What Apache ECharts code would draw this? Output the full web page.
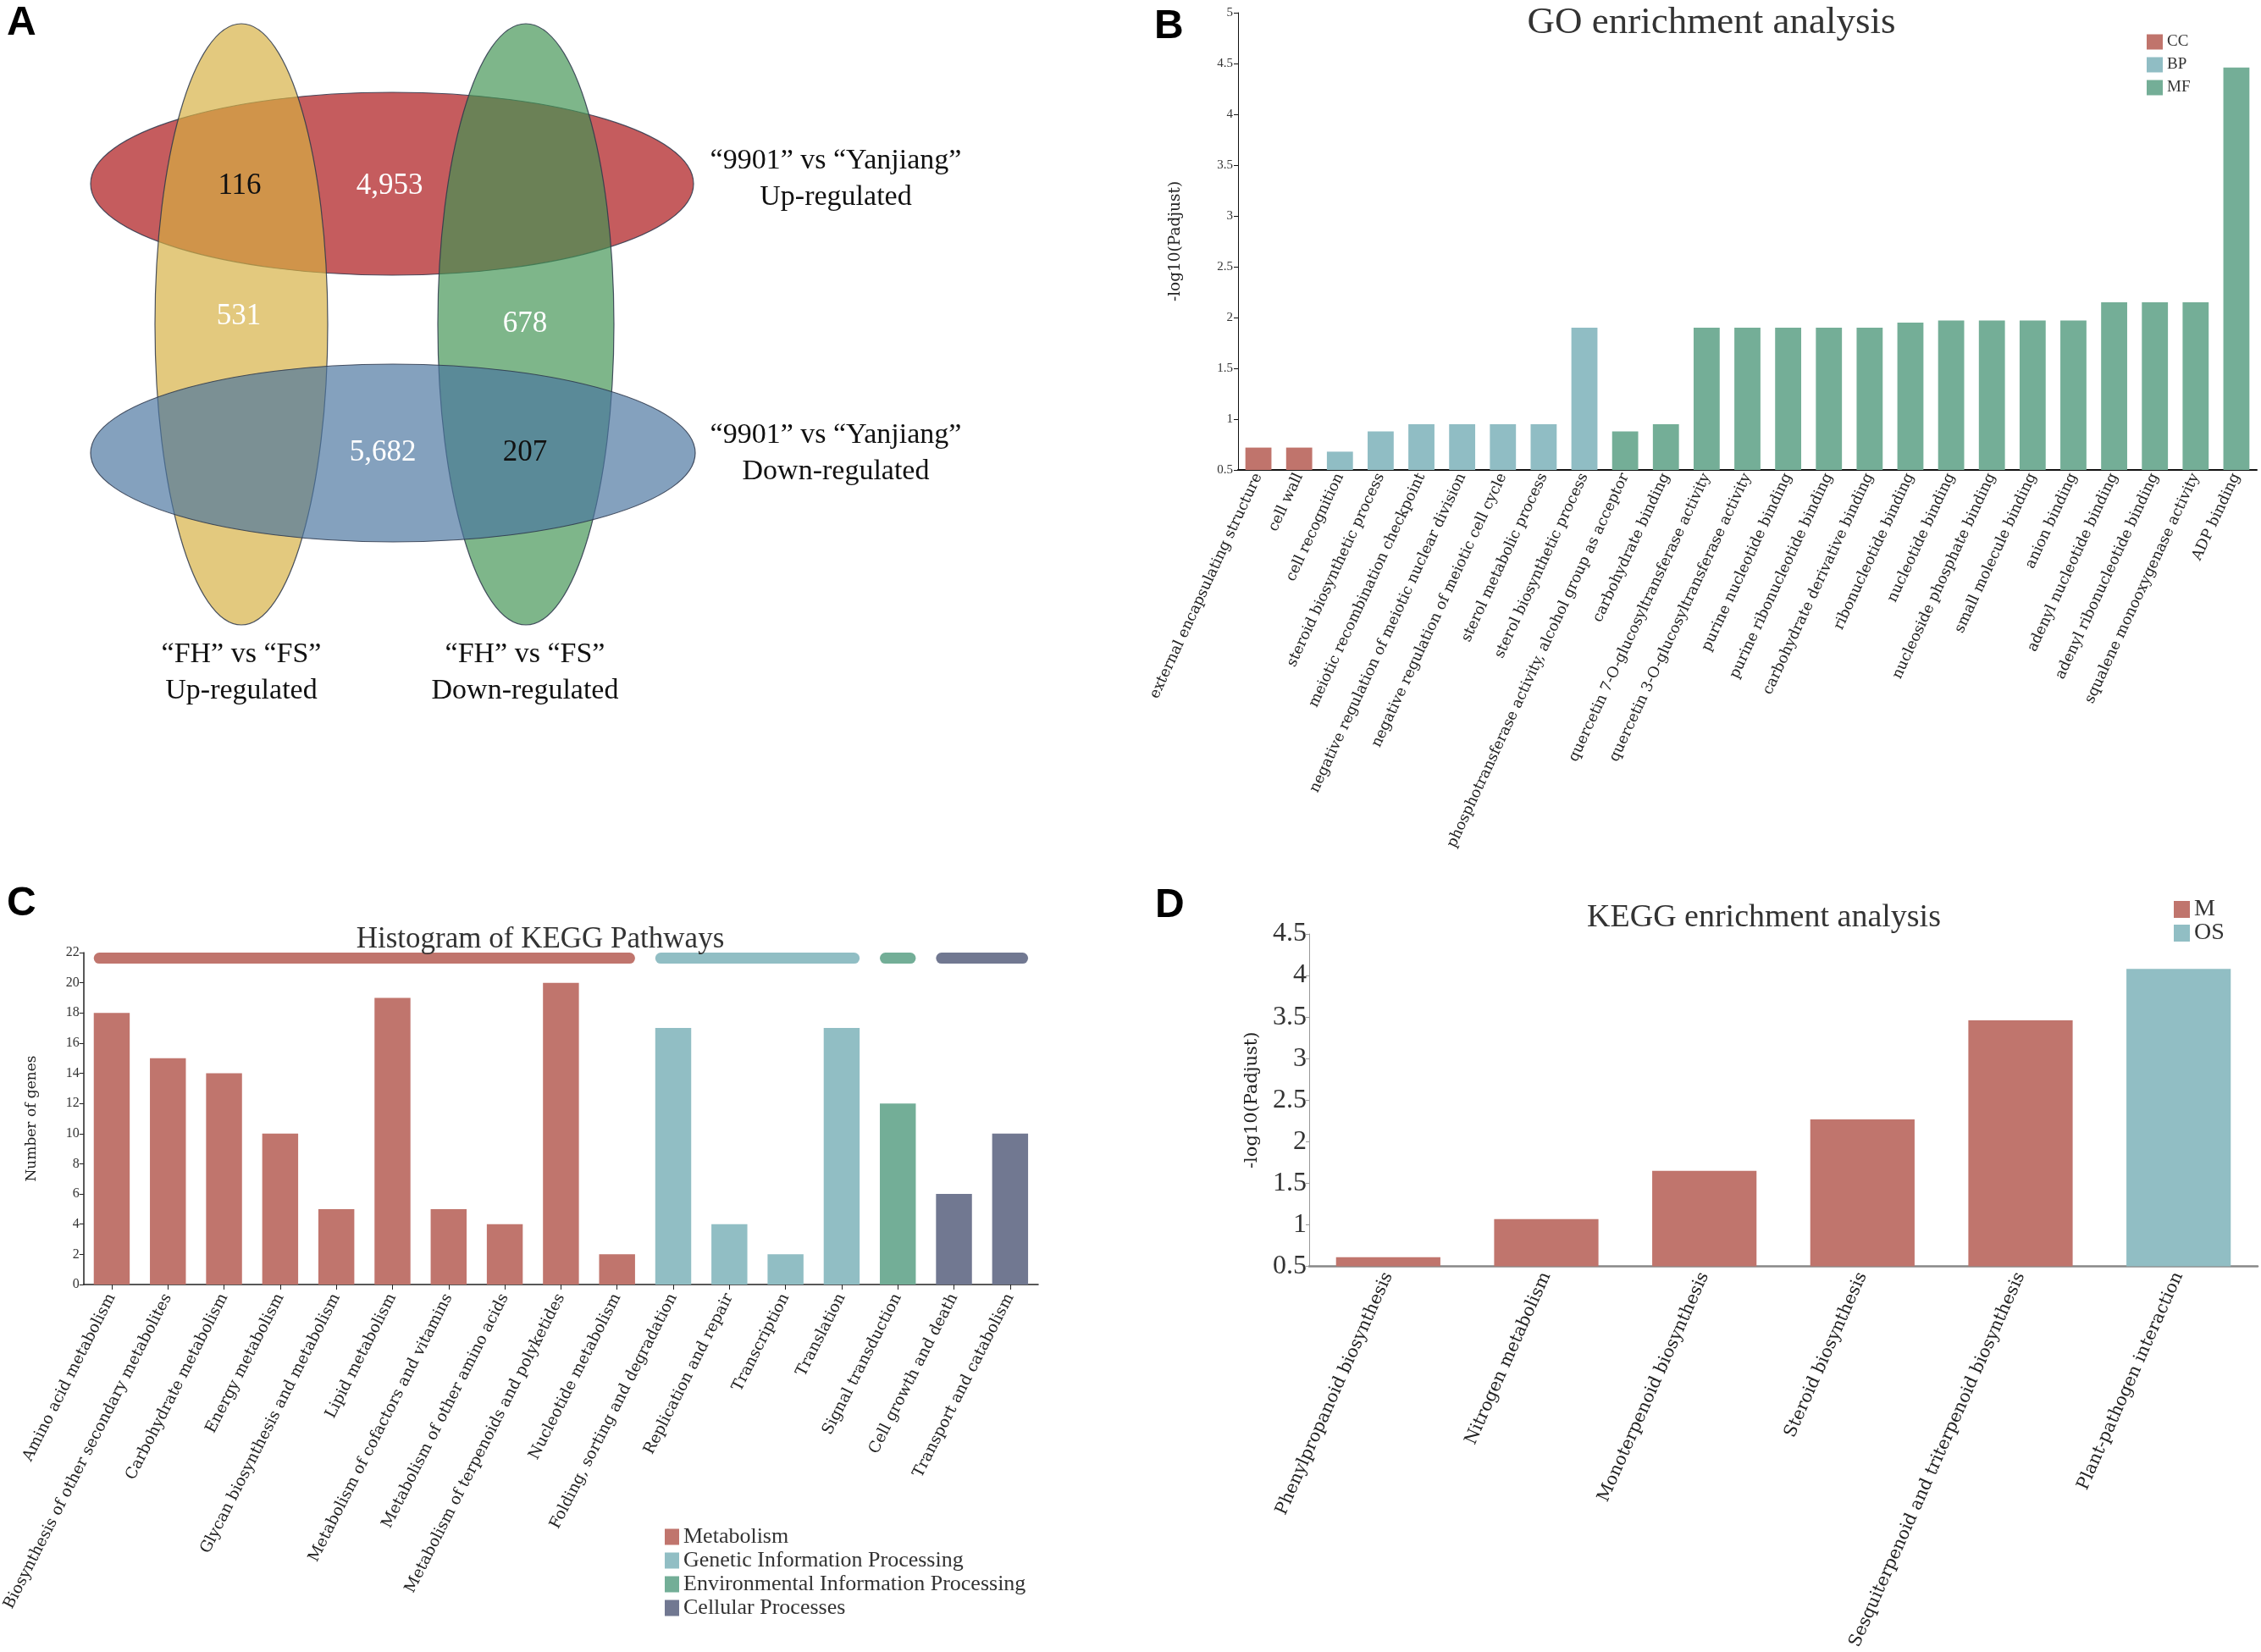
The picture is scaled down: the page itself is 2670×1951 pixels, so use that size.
<!DOCTYPE html>
<html>
<head>
<meta charset="utf-8">
<script src="https://cdn.jsdelivr.net/npm/echarts@6/dist/echarts.min.js"></script>
<style>
html,body{margin:0;padding:0;background:#fff;}
#main{width:2670px;height:1951px;}
</style>
</head>
<body>
<div id="main"></div>
<script>
// ---------- Panel A: Venn ----------
const vennSetNames = ['“9901” vs “Yanjiang”\nUp-regulated', '“9901” vs “Yanjiang”\nDown-regulated', '“FH” vs “FS”\nUp-regulated', '“FH” vs “FS”\nDown-regulated'];
const vennCounts = [116, 4953, 531, 678, 5682, 207];
const vennCountDark = [true, false, false, false, false, true];

// ---------- Panel B: GO enrichment ----------
const goTerms = ['external encapsulating structure', 'cell wall', 'cell recognition', 'steroid biosynthetic process', 'meiotic recombination checkpoint', 'negative regulation of meiotic nuclear division', 'negative regulation of meiotic cell cycle', 'sterol metabolic process', 'sterol biosynthetic process', 'phosphotransferase activity, alcohol group as acceptor', 'carbohydrate binding', 'quercetin 7-O-glucosyltransferase activity', 'quercetin 3-O-glucosyltransferase activity', 'purine nucleotide binding', 'purine ribonucleotide binding', 'carbohydrate derivative binding', 'ribonucleotide binding', 'nucleotide binding', 'nucleoside phosphate binding', 'small molecule binding', 'anion binding', 'adenyl nucleotide binding', 'adenyl ribonucleotide binding', 'squalene monooxygenase activity', 'ADP binding'];
const goValues = [0.72, 0.72, 0.68, 0.88, 0.95, 0.95, 0.95, 0.95, 1.90, 0.88, 0.95, 1.90, 1.90, 1.90, 1.90, 1.90, 1.95, 1.97, 1.97, 1.97, 1.97, 2.15, 2.15, 2.15, 4.46];
const goGroups = ['CC', 'CC', 'BP', 'BP', 'BP', 'BP', 'BP', 'BP', 'BP', 'MF', 'MF', 'MF', 'MF', 'MF', 'MF', 'MF', 'MF', 'MF', 'MF', 'MF', 'MF', 'MF', 'MF', 'MF', 'MF'];
const goGroupNames = ['CC', 'BP', 'MF'];
const goYTicks = [0.5, 5, 0.5]; // min, max, interval

// ---------- Panel C: KEGG histogram ----------
const keggPathways = ['Amino acid metabolism', 'Biosynthesis of other secondary metabolites', 'Carbohydrate metabolism', 'Energy metabolism', 'Glycan biosynthesis and metabolism', 'Lipid metabolism', 'Metabolism of cofactors and vitamins', 'Metabolism of other amino acids', 'Metabolism of terpenoids and polyketides', 'Nucleotide metabolism', 'Folding, sorting and degradation', 'Replication and repair', 'Transcription', 'Translation', 'Signal transduction', 'Cell growth and death', 'Transport and catabolism'];
const keggGenes = [18, 15, 14, 10, 5, 19, 5, 4, 20, 2, 17, 4, 2, 17, 12, 6, 10];
const keggClasses = ['Metabolism', 'Metabolism', 'Metabolism', 'Metabolism', 'Metabolism', 'Metabolism', 'Metabolism', 'Metabolism', 'Metabolism', 'Metabolism', 'Genetic Information Processing', 'Genetic Information Processing', 'Genetic Information Processing', 'Genetic Information Processing', 'Environmental Information Processing', 'Cellular Processes', 'Cellular Processes'];
const keggClassNames = ['Metabolism', 'Genetic Information Processing', 'Environmental Information Processing', 'Cellular Processes'];
const keggYTicks = [0, 22, 2];

// ---------- Panel D: KEGG enrichment ----------
const enrichPathways = ['Phenylpropanoid biosynthesis', 'Nitrogen metabolism', 'Monoterpenoid biosynthesis', 'Steroid biosynthesis', 'Sesquiterpenoid and triterpenoid biosynthesis', 'Plant-pathogen interaction'];
const enrichValues = [0.61, 1.07, 1.65, 2.27, 3.46, 4.08];
const enrichGroups = ['M', 'M', 'M', 'M', 'M', 'OS'];
const enrichGroupNames = ['M', 'OS'];
const enrichYTicks = [0.5, 4.5, 0.5];

// ---------- styles ----------
const SERIF = '"Liberation Serif", "Times New Roman", serif';
const WIDE = '"DejaVu Serif", serif';
const SANS = '"Liberation Sans", Arial, sans-serif';
const goColors = {CC: '#C0746C', BP: '#90BDC4', MF: '#74AE97'};
const keggColors = {'Metabolism': '#C0756D', 'Genetic Information Processing': '#91BEC4', 'Environmental Information Processing': '#73AE97', 'Cellular Processes': '#717891'};
const enrichColors = {M: '#C0756D', OS: '#91BEC4'};

const chart = echarts.init(document.getElementById('main'), null, {renderer: 'canvas'});

function splitSeries(values, groups, name) {
  return values.map((v, i) => groups[i] === name ? v : '-');
}

// Venn graphics
const ellipses = [
  {cx: 463, cy: 217, rx: 356, ry: 108, c: 'rgba(170,15,18,0.68)'},
  {cx: 285, cy: 383, rx: 102, ry: 355, c: 'rgba(214,176,65,0.68)'},
  {cx: 621, cy: 383, rx: 104, ry: 355, c: 'rgba(65,148,83,0.68)'},
  {cx: 464, cy: 535, rx: 357, ry: 105, c: 'rgba(73,117,159,0.68)'}
];
const countPos = [[283, 220], [460, 220], [282, 374], [620, 383], [452, 535], [620, 535]];
const setLabelPos = [[987, 212], [987, 536], [285, 795], [620, 795]];

const graphics = [];
ellipses.forEach(e => graphics.push({
  type: 'ellipse', shape: {cx: e.cx, cy: e.cy, rx: e.rx, ry: e.ry},
  style: {fill: e.c, stroke: 'rgba(45,55,75,0.85)', lineWidth: 1.2}, silent: true
}));
vennCounts.forEach((v, i) => graphics.push({
  type: 'text', x: countPos[i][0], y: countPos[i][1], silent: true,
  style: {text: v.toLocaleString('en-US'), font: '35px ' + SERIF, fill: vennCountDark[i] ? '#111' : '#fff', textAlign: 'center', textVerticalAlign: 'middle', verticalAlign: 'middle', align: 'center'}
}));
vennSetNames.forEach((t, i) => graphics.push({
  type: 'text', x: setLabelPos[i][0], y: setLabelPos[i][1], silent: true,
  style: {text: t, font: '34px ' + SERIF, fill: '#111', lineHeight: 43, textAlign: 'center', textVerticalAlign: 'middle', verticalAlign: 'middle', align: 'center'}
}));
// panel letters
[['A', 8, 4], ['B', 1363, 8], ['C', 8, 1044], ['D', 1364, 1046]].forEach(p => graphics.push({
  type: 'text', x: p[1], y: p[2], silent: true,
  style: {text: p[0], font: 'bold 48px ' + SANS, fill: '#000', textAlign: 'left', textVerticalAlign: 'top', verticalAlign: 'top', align: 'left'}
}));

// band ranges for KEGG classes
const bandData = keggClassNames.map((n, g) => {
  const idx = keggClasses.map((c, i) => c === n ? i : -1).filter(i => i >= 0);
  return [Math.min(...idx), Math.max(...idx), g];
});

function axisText(size, fam) { return {fontFamily: fam || SERIF, fontSize: size, color: '#333'}; }

const option = {
  backgroundColor: '#fff',
  animation: false,
  title: [
    {text: 'GO enrichment analysis', left: 2016, top: 0, textAlign: 'center', textStyle: {fontFamily: SERIF, fontSize: 45, fontWeight: 'normal', color: '#333'}},
    {text: 'Histogram of KEGG Pathways', left: 633, top: 1087, textAlign: 'center', textStyle: {fontFamily: SERIF, fontSize: 35, fontWeight: 'normal', color: '#333'}},
    {text: 'KEGG enrichment analysis', left: 2078, top: 1060, textAlign: 'center', textStyle: {fontFamily: SERIF, fontSize: 38, fontWeight: 'normal', color: '#333'}}
  ],
  legend: [
    {data: goGroupNames, orient: 'vertical', left: 2530, top: 35, icon: 'rect', itemWidth: 19, itemHeight: 18, itemGap: 8, selectedMode: false, textStyle: {fontFamily: SERIF, fontSize: 19, lineHeight: 19, color: '#333'}},
    {data: keggClassNames, orient: 'vertical', left: 780, top: 1797, icon: 'rect', itemWidth: 17, itemHeight: 19, itemGap: 2, selectedMode: false, textStyle: {fontFamily: SERIF, fontSize: 26, lineHeight: 26, color: '#333'}},
    {data: enrichGroupNames, orient: 'vertical', left: 2562, top: 1055, icon: 'rect', itemWidth: 19, itemHeight: 20, itemGap: 0, selectedMode: false, textStyle: {fontFamily: SERIF, fontSize: 28, lineHeight: 28, color: '#333'}}
  ],
  grid: [
    {left: 1462, right: 5, top: 15, bottom: 1396, containLabel: false},
    {left: 97, right: 1444, top: 1125, bottom: 434, containLabel: false},
    {left: 1546, right: 4, top: 1103, bottom: 451, containLabel: false}
  ],
  xAxis: [
    {gridIndex: 0, type: 'category', data: goTerms, axisLine: {lineStyle: {color: '#111', width: 2}}, axisTick: {show: false},
     axisLabel: {interval: 0, rotate: 65, margin: 5, fontFamily: WIDE, fontSize: 17.5, color: '#222'}},
    {gridIndex: 1, type: 'category', data: keggPathways, axisLine: {lineStyle: {color: '#222', width: 1.5}}, axisTick: {show: true, alignWithLabel: true, length: 6, lineStyle: {color: '#222'}},
     axisLabel: {interval: 0, rotate: 63, margin: 12, fontFamily: WIDE, fontSize: 18.5, color: '#222'}},
    {gridIndex: 2, type: 'category', data: enrichPathways, axisLine: {lineStyle: {color: '#888', width: 2.5}}, axisTick: {show: false},
     axisLabel: {interval: 0, rotate: 66, margin: 8, fontFamily: WIDE, fontSize: 20.5, color: '#222'}}
  ],
  yAxis: [
    {gridIndex: 0, type: 'value', min: goYTicks[0], max: goYTicks[1], interval: goYTicks[2], splitLine: {show: false},
     axisLine: {show: true, lineStyle: {color: '#111', width: 1}}, axisTick: {show: true, length: 5, lineStyle: {color: '#111'}},
     axisLabel: Object.assign({margin: 6}, axisText(15)),
     name: '-log10(Padjust)', nameLocation: 'middle', nameRotate: 90, nameGap: 64, nameTextStyle: {fontFamily: WIDE, fontSize: 18.5, color: '#222'}},
    {gridIndex: 1, type: 'value', min: keggYTicks[0], max: keggYTicks[1], interval: keggYTicks[2], splitLine: {show: false},
     axisLine: {show: true, lineStyle: {color: '#222', width: 1.5}}, axisTick: {show: true, length: 5, lineStyle: {color: '#222'}},
     axisLabel: Object.assign({margin: 5}, axisText(16)),
     name: 'Number of genes', nameLocation: 'middle', nameRotate: 90, nameGap: 53, nameTextStyle: {fontFamily: WIDE, fontSize: 17, color: '#222'}},
    {gridIndex: 2, type: 'value', min: enrichYTicks[0], max: enrichYTicks[1], interval: enrichYTicks[2], splitLine: {show: false},
     axisLine: {show: true, lineStyle: {color: '#999', width: 1}}, axisTick: {show: true, length: 4, lineStyle: {color: '#999'}},
     axisLabel: Object.assign({margin: 3}, axisText(32)),
     name: '-log10(Padjust)', nameLocation: 'middle', nameRotate: 90, nameGap: 57, nameTextStyle: {fontFamily: WIDE, fontSize: 21, color: '#222'}}
  ],
  series: [].concat(
    goGroupNames.map(n => ({
      name: n, type: 'bar', xAxisIndex: 0, yAxisIndex: 0, barGap: '-100%', barCategoryGap: '36%',
      itemStyle: {color: goColors[n]}, data: splitSeries(goValues, goGroups, n)
    })),
    keggClassNames.map(n => ({
      name: n, type: 'bar', xAxisIndex: 1, yAxisIndex: 1, barGap: '-100%', barCategoryGap: '36%',
      itemStyle: {color: keggColors[n]}, data: splitSeries(keggGenes, keggClasses, n)
    })),
    [{
      type: 'custom', xAxisIndex: 1, yAxisIndex: 1, silent: true, clip: false,
      encode: {x: [0, 1]},
      data: bandData,
      renderItem: function (params, api) {
        const yv = keggYTicks[1] - 0.37;
        const p0 = api.coord([api.value(0), yv]);
        const p1 = api.coord([api.value(1), yv]);
        const bw = api.size([1, 0])[0] * 0.64;
        const h = 13;
        return {type: 'rect', shape: {x: p0[0] - bw / 2, y: p0[1] - h / 2, width: p1[0] - p0[0] + bw, height: h, r: h / 2},
                style: {fill: keggColors[keggClassNames[api.value(2)]]}};
      }
    }],
    enrichGroupNames.map(n => ({
      name: n, type: 'bar', xAxisIndex: 2, yAxisIndex: 2, barGap: '-100%', barCategoryGap: '34%',
      itemStyle: {color: enrichColors[n]}, data: splitSeries(enrichValues, enrichGroups, n)
    }))
  ),
  graphic: graphics
};
chart.setOption(option);
</script>
</body>
</html>
